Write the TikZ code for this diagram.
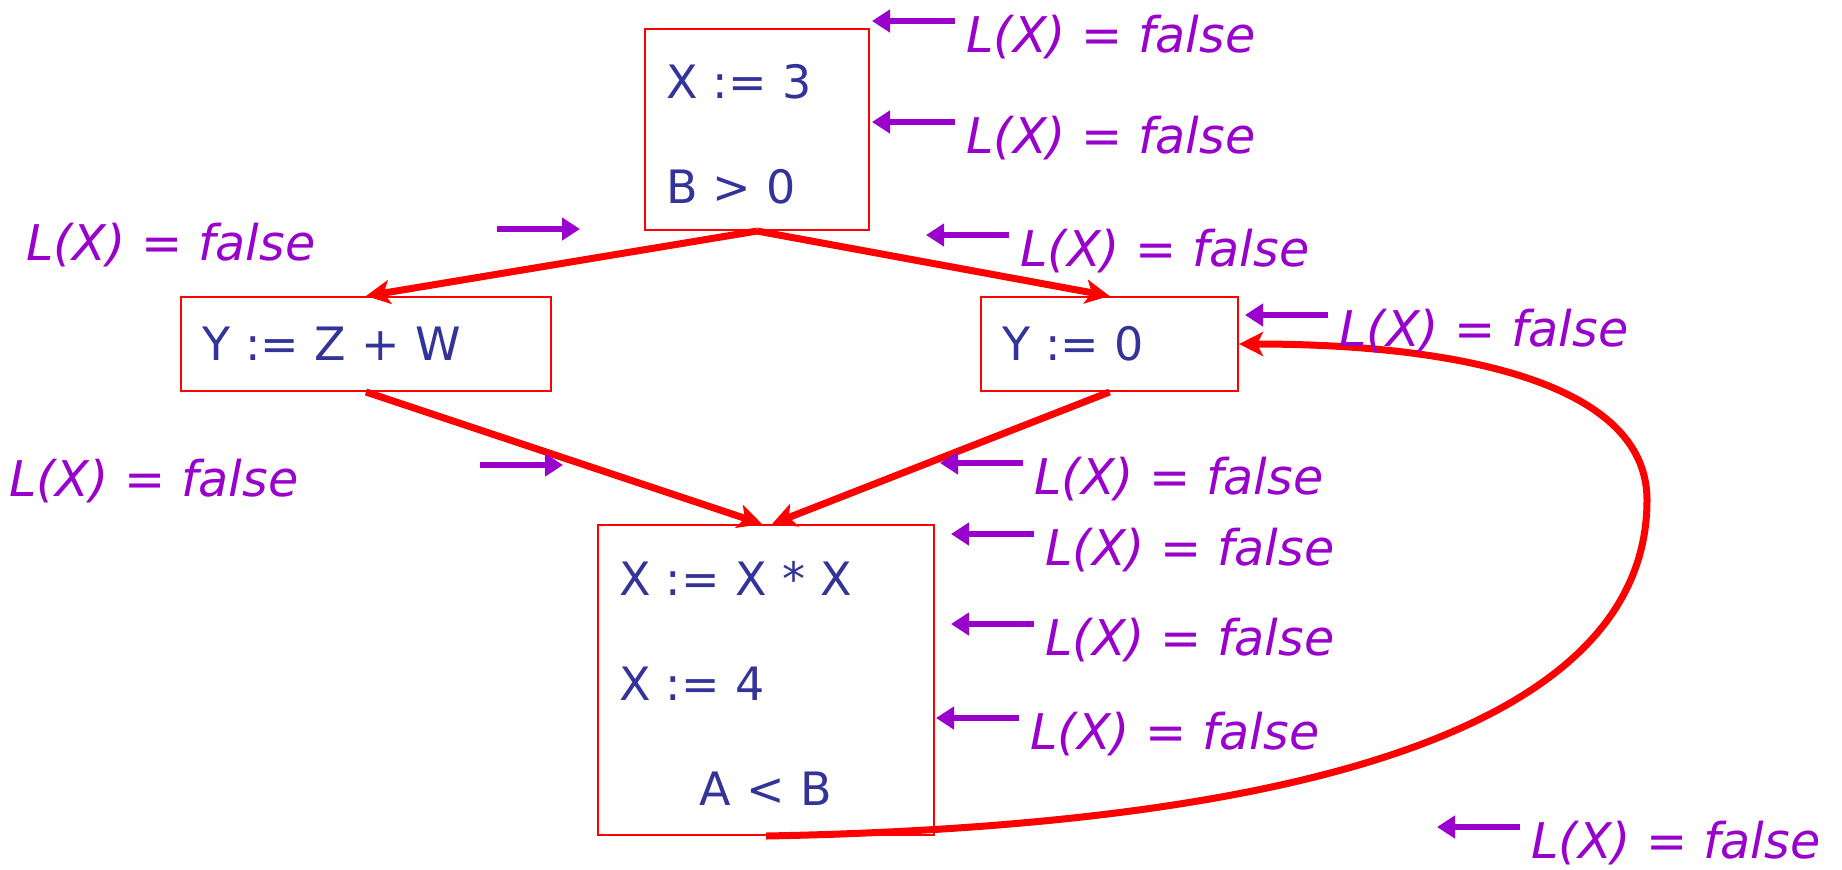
\documentclass[tikz,border=0pt]{standalone}
\usepackage{fontspec}
\setmainfont{DejaVu Sans}
\usetikzlibrary{arrows.meta}
\definecolor{boxred}{HTML}{FF0000}
\definecolor{codeblue}{HTML}{333399}
\definecolor{lblpurple}{HTML}{9900CC}
\begin{document}
\begin{tikzpicture}[x=0.5pt,y=-0.5pt,
  blk/.style={draw=boxred,line width=1pt,inner xsep=10.5pt,inner ysep=0pt,align=left,text=codeblue,font=\fontsize{23}{52.5}\selectfont},
  edge/.style={draw=boxred,line width=3.5pt,-{Stealth[length=12pt,width=12pt,inset=3pt]}},
  lbl/.style={inner sep=0pt,anchor=base west,text=lblpurple,font=\itshape\fontsize{24.6}{30}\selectfont},
  parr/.style={draw=lblpurple,line width=2.6pt,-{Triangle[length=9pt,width=11pt]}}]
  \useasboundingbox (0,0) rectangle (1842,869);
  \node[blk,text width=91pt,text height=22pt,minimum height=100.5pt] (top) at (757,129.5) {X := 3\\B > 0};
  \node[blk,text width=164pt,minimum height=47pt] (left) at (366,344) {Y := Z + W};
  \node[blk,text width=107.5pt,minimum height=47pt] (right) at (1109.5,344) {Y := 0};
  \node[blk,text width=147pt,text height=20.5pt,minimum height=155pt] (bot) at (766,680) {X := X * X\\X := 4\\\makebox[\linewidth]{A < B}};
  \draw[edge] (top.south) -- (left.north);
  \draw[edge] (top.south) -- (right.north);
  \draw[edge] (left.south) -- ([xshift=-2pt]bot.north);
  \draw[edge] (right.south) -- ([xshift=3pt]bot.north);
  \draw[edge] (bot.south) .. controls (1350,825) and (1647,710) .. (1647,500)
    .. controls (1647,380) and (1450,344) .. (right.east);
  \foreach \n/\x/\y in {lA/966/52,lB/966/153,lD/1020/266,lE/1339/346,lG/1034/494,lH/1045/565,lI/1045/655,lJ/1030/749,lK/1531/858}{
    \node[lbl] (\n) at (\x,\y) {L(X) = false};
    \draw[parr] ([shift={(-11,-31)}]\n.base west) -- ++(-83,0);
  }
  \foreach \n/\x/\y in {lC/26/260,lF/9/496}{
    \node[lbl] (\n) at (\x,\y) {L(X) = false};
    \draw[parr] ([shift={(471,-31)}]\n.base west) -- ++(83,0);
  }
\end{tikzpicture}
\end{document}
